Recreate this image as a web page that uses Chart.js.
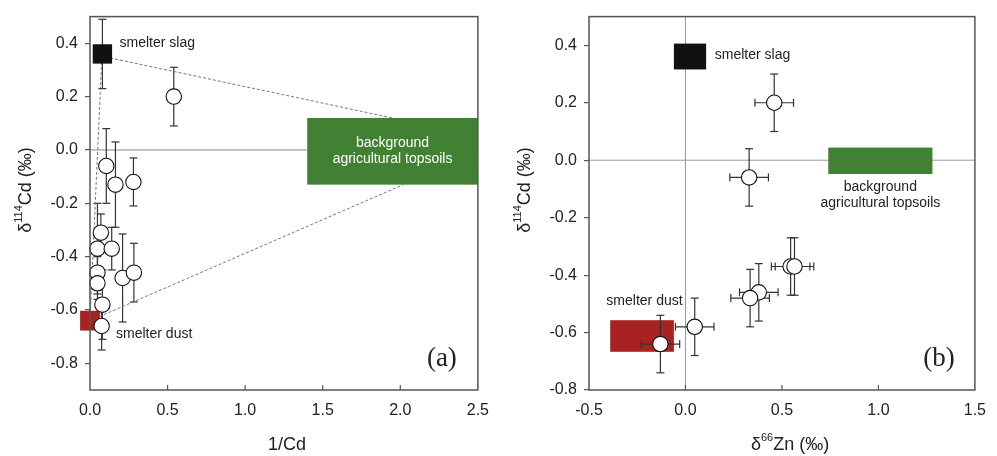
<!DOCTYPE html>
<html>
<head>
<meta charset="utf-8">
<script src="https://cdn.jsdelivr.net/npm/chart.js@4.4.1/dist/chart.umd.min.js"></script>
<style>
  body { margin: 0; background: #fff; }
  #wrap { position: relative; width: 997px; height: 456px; }
  canvas { position: absolute; top: 0; }
</style>
</head>
<body>
<div id="wrap">
  <canvas id="chartA" width="500" height="456" style="left:0"></canvas>
  <canvas id="chartB" width="497" height="456" style="left:500px"></canvas>
</div>
<script>
const FONT = "'Liberation Sans', Arial, sans-serif";
const INK = '#222';
const GREEN = '#428133';
const RED = '#a82220';
const SLAG = '#111111';

// panel (a): 1/Cd against d114Cd of the soils
const invCd = [0.54, 0.105, 0.164, 0.28, 0.07, 0.048, 0.14, 0.048, 0.048, 0.21, 0.283, 0.08, 0.075];
const cdA = [0.20, -0.06, -0.13, -0.12, -0.31, -0.37, -0.37, -0.46, -0.50, -0.48, -0.46, -0.58, -0.66];
const cdErrA = [0.11, 0.14, 0.16, 0.09, 0.07, 0.17, 0.08, 0.06, 0.06, 0.165, 0.11, 0.13, 0.09];
const slagA = [0.08, 0.36];
const slagErrA = [0.13];
const dustA = [0.0, -0.64];
const bgA = [1.4, 2.5, -0.13, 0.12];          // x from, x to, y from, y to
const mixSlagBg = [[0.13, 0.345], [1.95, 0.12]];
const mixDustBg = [[0.06, -0.625], [2.02, -0.13]];
const mixSlagDust = [[0.075, 0.33], [0.0, -0.64]];
const xTicksA = [0, 0.5, 1, 1.5, 2, 2.5];
const yTicksA = [-0.8, -0.6, -0.4, -0.2, 0, 0.2, 0.4];

// panel (b): d66Zn against d114Cd
const zn = [0.46, 0.33, 0.545, 0.565, 0.38, 0.335, 0.048, -0.13];
const znErr = [0.1, 0.1, 0.1, 0.1, 0.1, 0.1, 0.1, 0.1];
const cdB = [0.20, -0.06, -0.37, -0.37, -0.46, -0.48, -0.58, -0.64];
const cdErrB = [0.1, 0.1, 0.1, 0.1, 0.1, 0.1, 0.1, 0.1];
const slagB = [-0.06, 0.107, 0.316, 0.406];
const dustB = [-0.39, -0.06, -0.667, -0.557];
const bgB = [0.74, 1.28, -0.048, 0.044];
const xTicksB = [-0.5, 0, 0.5, 1, 1.5];
const yTicksB = [-0.8, -0.6, -0.4, -0.2, 0, 0.2, 0.4];

function pts(xs, ys) { return xs.map((x, i) => ({ x: x, y: ys[i] })); }
function pair(p) { return p.map(q => ({ x: q[0], y: q[1] })); }

function drawBox(chart, b, color) {
  const sx = chart.scales.x, sy = chart.scales.y, ctx = chart.ctx;
  const l = sx.getPixelForValue(b[0]), r = sx.getPixelForValue(b[1]);
  const t = sy.getPixelForValue(b[3]), bt = sy.getPixelForValue(b[2]);
  ctx.fillStyle = color;
  ctx.fillRect(l, t, r - l, bt - t);
}

function seg(ctx, x1, y1, x2, y2) {
  ctx.beginPath(); ctx.moveTo(x1, y1); ctx.lineTo(x2, y2); ctx.stroke();
}

function errBars(chart, xs, ys, ye, xe) {
  const ctx = chart.ctx, sx = chart.scales.x, sy = chart.scales.y;
  ctx.save();
  ctx.strokeStyle = '#333';
  ctx.lineWidth = 1.2;
  xs.forEach((v, i) => {
    const px = sx.getPixelForValue(v), py = sy.getPixelForValue(ys[i]);
    if (ye) {
      const a = sy.getPixelForValue(ys[i] + ye[i]), b = sy.getPixelForValue(ys[i] - ye[i]);
      seg(ctx, px, a, px, b);
      seg(ctx, px - 4, a, px + 4, a);
      seg(ctx, px - 4, b, px + 4, b);
    }
    if (xe) {
      const a = sx.getPixelForValue(v - xe[i]), b = sx.getPixelForValue(v + xe[i]);
      seg(ctx, a, py, b, py);
      seg(ctx, a, py - 4, a, py + 4);
      seg(ctx, b, py - 4, b, py + 4);
    }
  });
  ctx.restore();
}

function label(chart, text, x, y, align, color) {
  const ctx = chart.ctx;
  ctx.save();
  ctx.font = '14px ' + FONT;
  ctx.fillStyle = color || INK;
  ctx.textAlign = align;
  ctx.textBaseline = 'middle';
  ctx.fillText(text, chart.scales.x.getPixelForValue(x), chart.scales.y.getPixelForValue(y));
  ctx.restore();
}

// text with superscript parts, centred on (x, y)
function richText(ctx, parts, x, y, size, vertical) {
  ctx.save();
  ctx.translate(x, y);
  if (vertical) ctx.rotate(-Math.PI / 2);
  ctx.fillStyle = INK;
  ctx.textBaseline = 'middle';
  ctx.textAlign = 'left';
  let w = 0;
  parts.forEach(p => {
    ctx.font = (p[1] ? Math.round(size * 0.6) : size) + 'px ' + FONT;
    w += ctx.measureText(p[0]).width;
  });
  let cx = -w / 2;
  parts.forEach(p => {
    ctx.font = (p[1] ? Math.round(size * 0.6) : size) + 'px ' + FONT;
    ctx.fillText(p[0], cx, p[1] ? -size * 0.38 : 0);
    cx += ctx.measureText(p[0]).width;
  });
  ctx.restore();
}

function frame(chart, innerTicks, tag) {
  const ctx = chart.ctx, a = chart.chartArea, sx = chart.scales.x;
  ctx.save();
  ctx.strokeStyle = '#555';
  ctx.lineWidth = 1.5;
  ctx.strokeRect(a.left, a.top, a.right - a.left, a.bottom - a.top);
  ctx.lineWidth = 1.2;
  innerTicks.forEach(v => {
    const px = sx.getPixelForValue(v);
    seg(ctx, px, a.bottom, px, a.bottom - 5);
  });
  ctx.font = '27px "Liberation Serif", "Times New Roman", serif';
  ctx.fillStyle = INK;
  ctx.textAlign = 'center';
  ctx.textBaseline = 'middle';
  ctx.fillText(tag, a.right - 36, a.bottom - 31);
  ctx.restore();
}

function scaleOptions(xMin, xMax, xTicks, yMin, yMax, yTicks, axisW) {
  const tickFont = { family: FONT, size: 16 };
  return {
    x: {
      type: 'linear', min: xMin, max: xMax,
      afterBuildTicks: s => { s.ticks = xTicks.map(v => ({ value: v })); },
      afterFit: s => { s.height = 66; },
      ticks: { font: tickFont, color: INK, padding: 11, maxRotation: 0, autoSkip: false,
               callback: v => v.toFixed(1) },
      grid: { display: false, drawTicks: false },
      border: { display: false }
    },
    y: {
      type: 'linear', min: yMin, max: yMax,
      afterBuildTicks: s => { s.ticks = yTicks.map(v => ({ value: v })); },
      afterFit: s => { s.width = axisW; },
      ticks: { font: tickFont, color: INK, padding: 7, autoSkip: false,
               callback: v => v.toFixed(1) },
      grid: { drawOnChartArea: false, drawTicks: true, tickLength: 5, color: '#555', lineWidth: 1.2 },
      border: { display: false }
    }
  };
}

const yTitle = [['δ', false], ['114', true], ['Cd (‰)', false]];

// ---------- panel (a) ----------
const decorA = {
  id: 'decorA',
  beforeDatasetsDraw(chart) {
    const ctx = chart.ctx, sx = chart.scales.x, sy = chart.scales.y;
    drawBox(chart, bgA, GREEN);
    ctx.save();
    ctx.strokeStyle = '#888';
    ctx.lineWidth = 1;
    seg(ctx, sx.getPixelForValue(xTicksA[0]), sy.getPixelForValue(0), sx.getPixelForValue(bgA[0]), sy.getPixelForValue(0));
    ctx.restore();
    errBars(chart, invCd, cdA, cdErrA, null);
    errBars(chart, [slagA[0]], [slagA[1]], slagErrA, null);
  },
  afterDatasetsDraw(chart) {
    label(chart, 'smelter slag', 0.19, 0.40, 'left');
    label(chart, 'smelter dust', 0.168, -0.69, 'left');
    const cx = (bgA[0] + bgA[1]) / 2, cy = (bgA[2] + bgA[3]) / 2;
    label(chart, 'background', cx, cy + 0.03, 'center', '#fff');
    label(chart, 'agricultural topsoils', cx, cy - 0.03, 'center', '#fff');
  },
  afterDraw(chart) {
    frame(chart, [0.5, 1, 1.5, 2], '(a)');
    richText(chart.ctx, yTitle, 26, 190, 18, true);
    richText(chart.ctx, [['1/Cd', false]], 287, 445, 18, false);
  }
};

new Chart(document.getElementById('chartA'), {
  type: 'scatter',
  data: {
    datasets: [
      { data: pts(invCd, cdA), pointRadius: 7.7, pointBackgroundColor: '#fff',
        pointBorderColor: '#111', pointBorderWidth: 1.1, order: 1, clip: false },
      { data: [{ x: slagA[0], y: slagA[1] }], pointStyle: 'rect', pointRadius: 13.7,
        pointBackgroundColor: SLAG, pointBorderWidth: 0, order: 2, clip: false },
      { data: [{ x: dustA[0], y: dustA[1] }], pointStyle: 'rect', pointRadius: 14,
        pointBackgroundColor: RED, pointBorderWidth: 0, order: 2, clip: false },
      { type: 'line', data: pair(mixSlagBg), borderColor: '#777', borderWidth: 1,
        borderDash: [3, 2], pointRadius: 0, order: 3 },
      { type: 'line', data: pair(mixDustBg), borderColor: '#777', borderWidth: 1,
        borderDash: [3, 2], pointRadius: 0, order: 3 },
      { type: 'line', data: pair(mixSlagDust), borderColor: '#777', borderWidth: 1,
        borderDash: [3, 2], pointRadius: 0, order: 3 }
    ]
  },
  options: {
    responsive: false,
    animation: false,
    layout: { padding: { top: 15, right: 13, left: 0, bottom: 0 } },
    plugins: { legend: { display: false }, tooltip: { enabled: false } },
    scales: scaleOptions(0, 2.5, xTicksA, -0.9, 0.5, yTicksA, 90)
  },
  plugins: [decorA]
});

// ---------- panel (b) ----------
const decorB = {
  id: 'decorB',
  beforeDatasetsDraw(chart) {
    const ctx = chart.ctx, a = chart.chartArea, sx = chart.scales.x, sy = chart.scales.y;
    ctx.save();
    ctx.strokeStyle = '#999';
    ctx.lineWidth = 1;
    seg(ctx, a.left, sy.getPixelForValue(0), a.right, sy.getPixelForValue(0));
    seg(ctx, sx.getPixelForValue(0), a.top, sx.getPixelForValue(0), a.bottom);
    ctx.restore();
    drawBox(chart, slagB, SLAG);
    drawBox(chart, dustB, RED);
    drawBox(chart, bgB, GREEN);
    errBars(chart, zn, cdB, cdErrB, znErr);
  },
  afterDatasetsDraw(chart) {
    label(chart, 'smelter slag', 0.152, 0.365, 'left');
    label(chart, 'smelter dust', -0.41, -0.49, 'left');
    const cx = (bgB[0] + bgB[1]) / 2;
    label(chart, 'background', cx, -0.095, 'center');
    label(chart, 'agricultural topsoils', cx, -0.15, 'center');
  },
  afterDraw(chart) {
    frame(chart, [0, 0.5, 1], '(b)');
    richText(chart.ctx, yTitle, 25, 190, 18, true);
    richText(chart.ctx, [['δ', false], ['66', true], ['Zn (‰)', false]], 290, 445, 18, false);
  }
};

new Chart(document.getElementById('chartB'), {
  type: 'scatter',
  data: {
    datasets: [
      { data: pts(zn, cdB), pointRadius: 7.7, pointBackgroundColor: '#fff',
        pointBorderColor: '#111', pointBorderWidth: 1.1, clip: false }
    ]
  },
  options: {
    responsive: false,
    animation: false,
    layout: { padding: { top: 15, right: 11, left: 0, bottom: 0 } },
    plugins: { legend: { display: false }, tooltip: { enabled: false } },
    scales: scaleOptions(-0.5, 1.5, xTicksB, -0.8, 0.5, yTicksB, 89)
  },
  plugins: [decorB]
});
</script>
</body>
</html>
